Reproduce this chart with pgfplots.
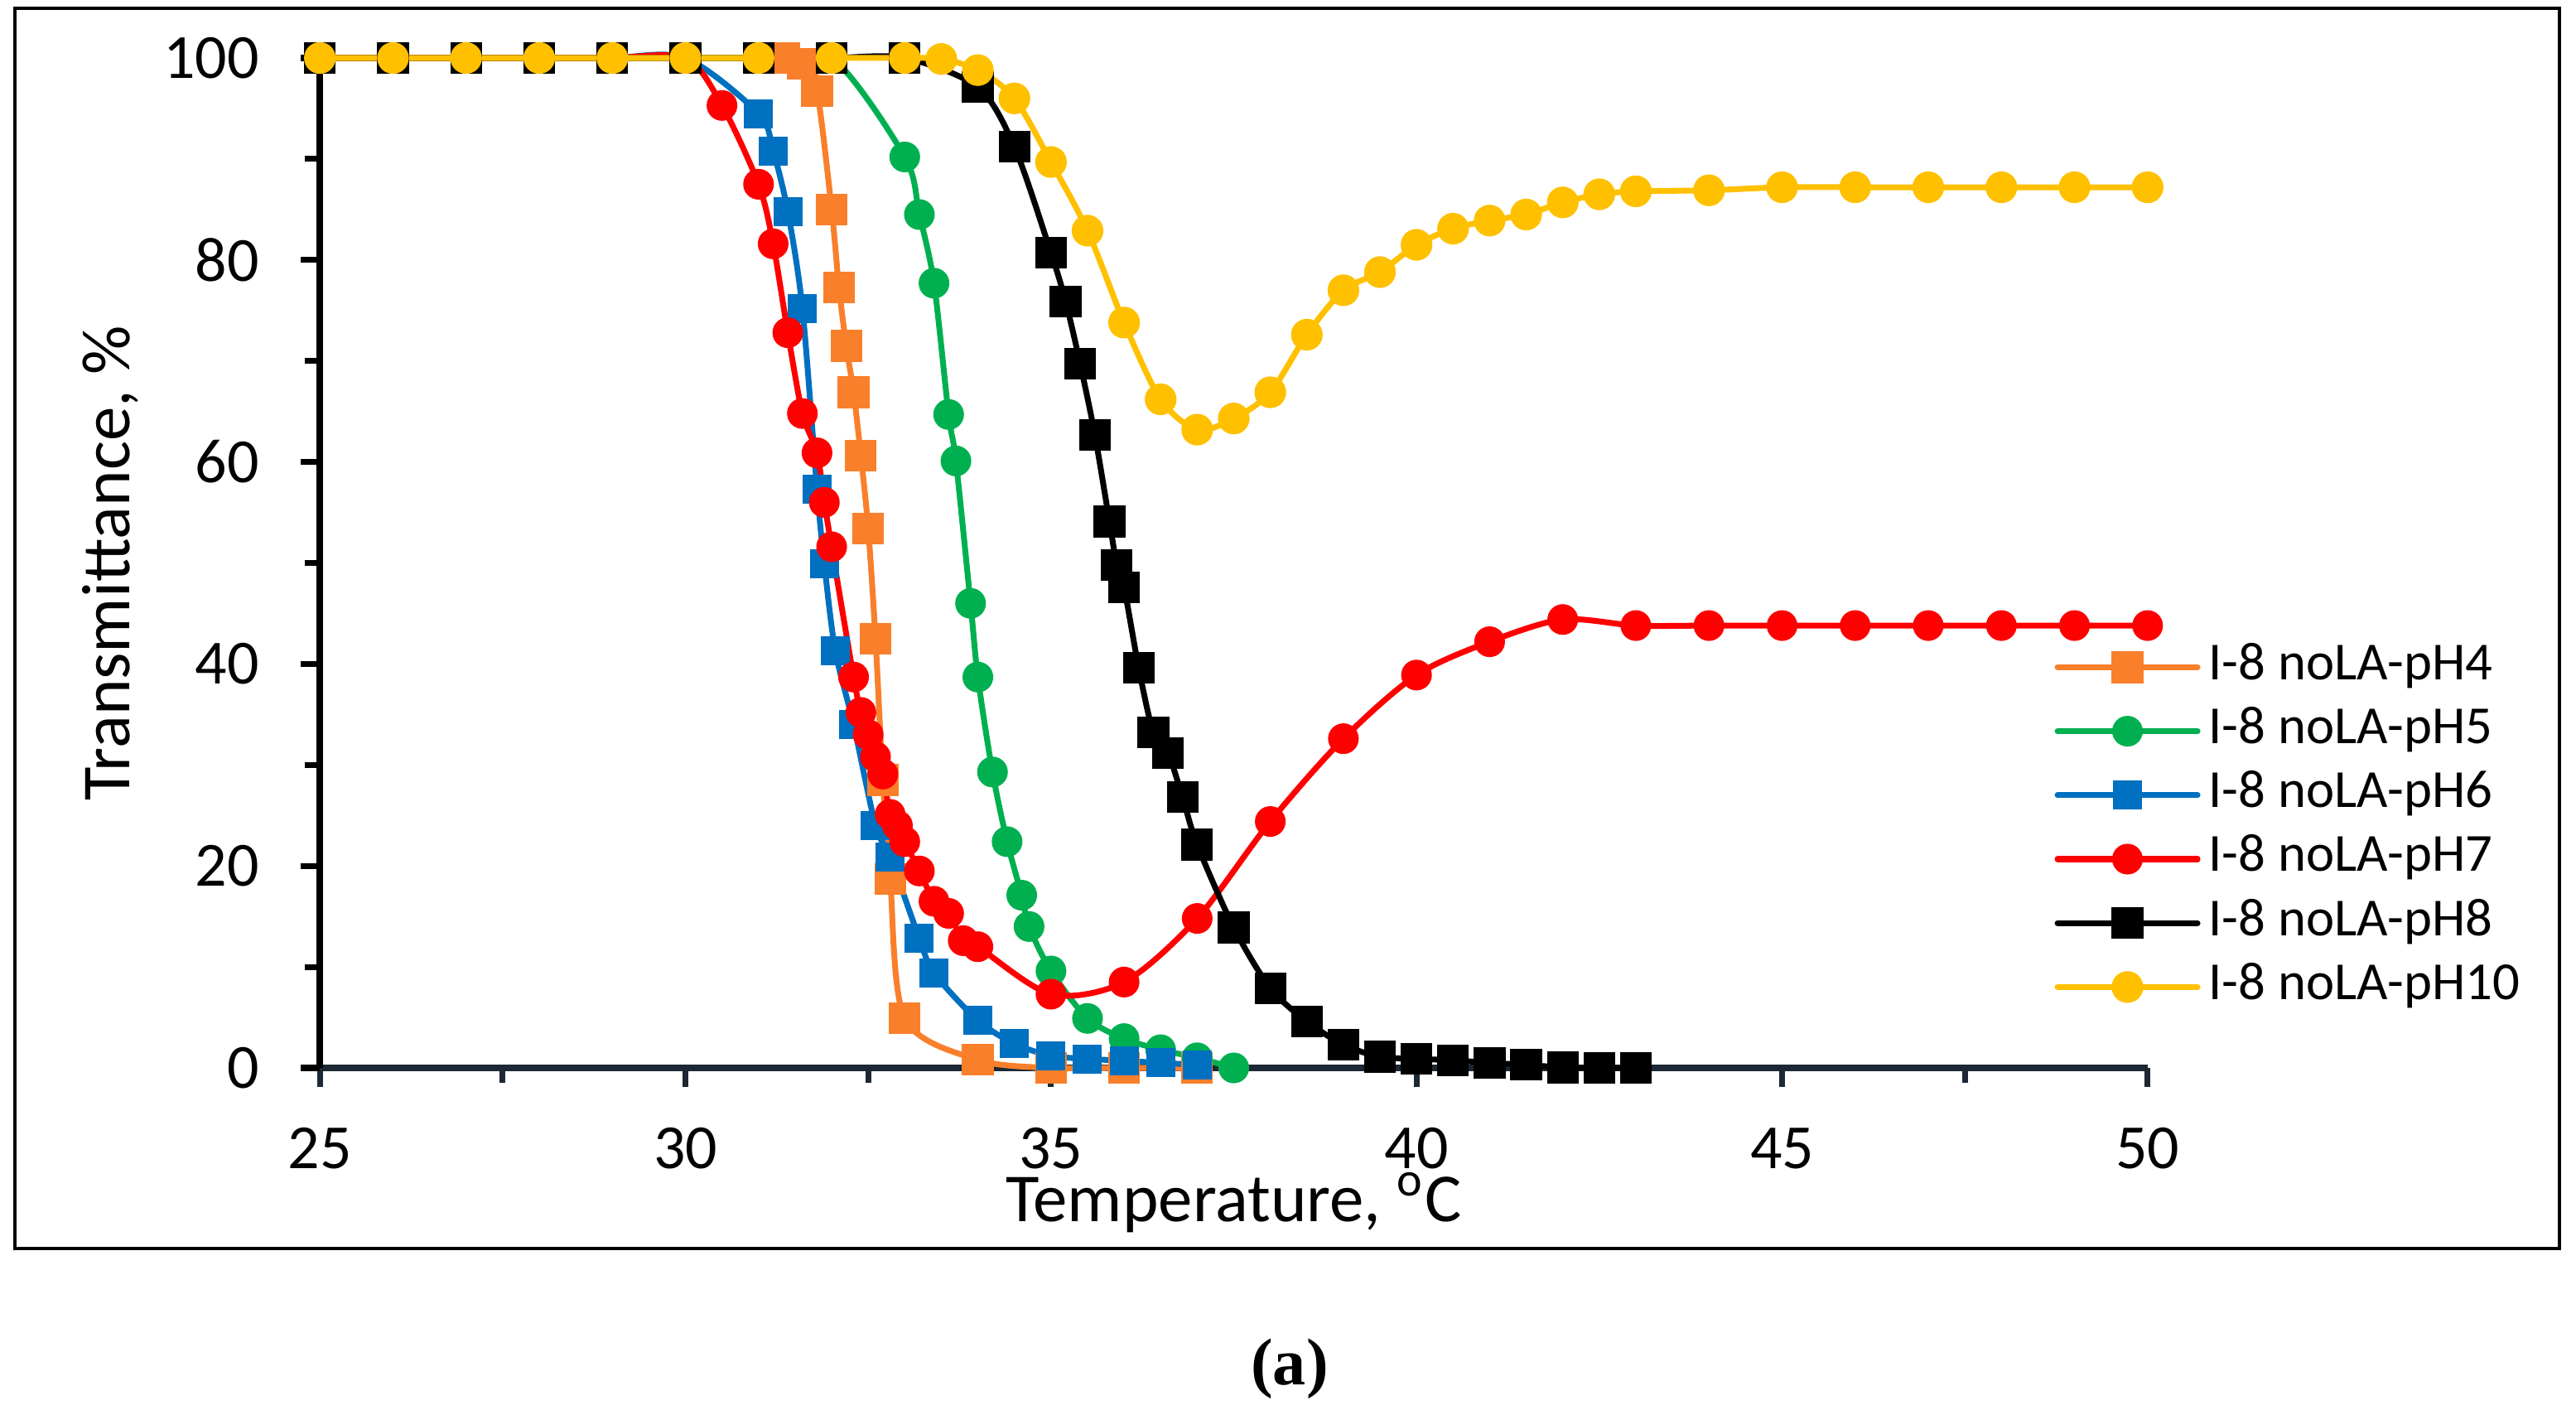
\documentclass[border=0pt]{standalone}
\usepackage{fontspec}
\setmainfont{Carlito}
\newfontfamily\capfont{Liberation Serif}
\usepackage{pgfplots}
\pgfplotsset{compat=1.18}

\definecolor{cOrange}{HTML}{F97F2B}
\definecolor{cGreen}{HTML}{00B050}
\definecolor{cBlue}{HTML}{0070C0}
\definecolor{cRed}{HTML}{FF0000}
\definecolor{cYellow}{HTML}{FFC000}
\definecolor{cSlate}{HTML}{1C2833}

\begin{document}
\begin{tikzpicture}
 % page frame
 \path (0,0) rectangle (155.5mm,85.65mm);
 \draw[line width=0.65pt] (0.9mm,10.3mm) rectangle (154.5mm,85.15mm);
 \node[font=\capfont\bfseries\fontsize{11.4}{13}\selectfont] at (77.85mm,3.05mm) {(a)};
 \begin{axis}[
  at={(19.31mm,21.2mm)},
  anchor=south west,
  scale only axis,
  width=110.33mm,
  height=60.95mm,
  xmin=25, xmax=50,
  ymin=0, ymax=100,
  clip=false,
  axis x line*=bottom,
  axis y line*=left,
  x axis line style={color=cSlate, line width=1.1pt},
  y axis line style={black, line width=1.1pt},
  xtick={25,30,...,50},
  minor xtick={27.5,32.5,...,47.5},
  ytick={0,20,...,100},
  minor ytick={10,30,...,90},
  tick align=outside,
  major tick length=1.15mm,
  minor tick length=0.9mm,
  x tick style={color=cSlate, line width=1pt},
  y tick style={black, line width=1pt},
  /pgf/number format/assume math mode=true,
  tick label style={font=\fontsize{10.8}{13}\selectfont, black},
  xticklabel style={anchor=north, inner sep=0pt, yshift=-2.4mm},
  yticklabel style={anchor=east, inner sep=0pt, xshift=-2.45mm},
  xlabel={Temperature, \textsuperscript{o}C},
  ylabel={Transmittance, \%},
  label style={font=\fontsize{11.8}{14}\selectfont},
  xlabel style={at={(axis description cs:0.5,0)}, anchor=base, yshift=-9.25mm},
  ylabel style={at={(axis description cs:-0.1039,0.5)}, anchor=base},
  legend cell align=left,
  legend style={draw=none, fill=none, inner sep=0pt,
   at={(axis description cs:0.9485,0.2384)}, anchor=west,
   font=\fontsize{9.2}{11}\selectfont, row sep=1.16mm,
   nodes={inner sep=0pt, text height=2.1mm, text depth=0.6mm},
   /tikz/every odd column/.append style={column sep=0.5mm}},
  legend image code/.code={
   \draw[mark repeat=2,mark phase=2] plot coordinates {(0mm,0mm) (4.22mm,0mm) (8.45mm,0mm)};},
  every axis plot/.append style={smooth, line width=1pt, line cap=round},
 ]
  % I-8 noLA-pH4
  \addplot[color=cOrange, mark=square*, mark size=0.78mm,
   mark options={fill=cOrange, draw=cOrange}] coordinates {
   (25,100) (26,100) (27,100) (28,100) (29,100) (30,100) (31,100)
   (31.35,100) (31.6,99.4) (31.8,96.7) (32,85.0) (32.1,77.3) (32.2,71.5)
   (32.3,66.9) (32.4,60.6) (32.5,53.4) (32.6,42.5) (32.7,28.5) (32.8,18.7)
   (33,4.9) (34,0.8) (35,0) (36,0) (37,0)};
  % I-8 noLA-pH5
  \addplot[color=cGreen, mark=*, mark size=0.75mm,
   mark options={fill=cGreen, draw=cGreen}] coordinates {
   (25,100) (26,100) (27,100) (28,100) (29,100) (30,100) (31,100) (32,100)
   (33,90.2) (33.2,84.5) (33.4,77.7) (33.6,64.7) (33.7,60.1) (33.9,46.0)
   (34,38.7) (34.2,29.3) (34.4,22.4) (34.6,17.1) (34.7,14.0) (35,9.6)
   (35.5,4.9) (36,2.9) (36.5,1.8) (37,1.0) (37.5,0)};
  % I-8 noLA-pH6
  \addplot[color=cBlue, mark=square*, mark size=0.7mm,
   mark options={fill=cBlue, draw=cBlue}] coordinates {
   (25,100) (26,100) (27,100) (28,100) (29,100) (30,100)
   (31,94.5) (31.2,90.8) (31.4,84.8) (31.6,75.2) (31.8,57.3) (31.9,49.9)
   (32.05,41.3) (32.3,34.0) (32.6,24.0) (32.8,20.9) (33.2,12.8) (33.4,9.4)
   (34,4.7) (34.5,2.4) (35,1.2) (35.5,0.9) (36,0.7) (36.5,0.5) (37,0.3)};
  % I-8 noLA-pH7
  \addplot[color=cRed, mark=*, mark size=0.75mm,
   mark options={fill=cRed, draw=cRed}] coordinates {
   (25,100) (26,100) (27,100) (28,100) (29,100) (30,100)
   (30.5,95.3) (31,87.5) (31.2,81.6) (31.4,72.8) (31.6,64.8) (31.8,60.9)
   (31.9,56.0) (32,51.6) (32.3,38.7) (32.4,35.2) (32.5,33.0) (32.6,30.8)
   (32.7,29.1) (32.8,25.1) (32.9,24.0) (33,22.4) (33.2,19.5) (33.4,16.5)
   (33.6,15.3) (33.8,12.6) (34,12.0) (35,7.3) (36,8.5) (37,14.8) (38,24.4)
   (39,32.6) (40,38.9) (41,42.2) (42,44.4) (43,43.8) (44,43.8) (45,43.8)
   (46,43.8) (47,43.8) (48,43.8) (49,43.8) (50,43.8)};
  % I-8 noLA-pH8
  \addplot[color=black, mark=square*, mark size=0.78mm,
   mark options={fill=black, draw=black}] coordinates {
   (25,100) (26,100) (27,100) (28,100) (29,100) (30,100) (31,100) (32,100)
   (33,100) (34,97.1) (34.5,91.2) (35,80.7) (35.2,75.9) (35.4,69.7)
   (35.6,62.7) (35.8,54.1) (35.9,49.8) (36,47.6) (36.2,39.6) (36.4,33.2)
   (36.6,31.2) (36.8,26.8) (37,22.1) (37.5,13.9) (38,7.9) (38.5,4.6)
   (39,2.3) (39.5,1.1) (40,0.9) (40.5,0.75) (41,0.5) (41.5,0.3) (42,0.05)
   (42.5,0) (43,0)};
  % I-8 noLA-pH10
  \addplot[color=cYellow, mark=*, mark size=0.78mm,
   mark options={fill=cYellow, draw=cYellow}] coordinates {
   (25,100) (26,100) (27,100) (28,100) (29,100) (30,100) (31,100) (32,100)
   (33,100) (33.5,99.9) (34,98.8) (34.5,96.0) (35,89.7) (35.5,82.9)
   (36,73.8) (36.5,66.2) (37,63.2) (37.5,64.3) (38,66.9) (38.5,72.6)
   (39,77.0) (39.5,78.8) (40,81.5) (40.5,83.1) (41,83.9) (41.5,84.5)
   (42,85.7) (42.5,86.5) (43,86.8) (44,86.9) (45,87.2) (46,87.2) (47,87.2)
   (48,87.2) (49,87.2) (50,87.2)};
  \legend{I-8 noLA-pH4, I-8 noLA-pH5, I-8 noLA-pH6, I-8 noLA-pH7,
   I-8 noLA-pH8, I-8 noLA-pH10}
 \end{axis}
\end{tikzpicture}
\end{document}
